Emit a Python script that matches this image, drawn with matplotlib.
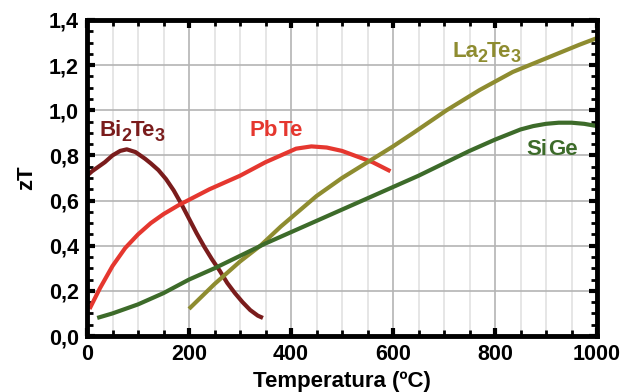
import matplotlib
matplotlib.use('Agg')
import matplotlib.pyplot as plt
import matplotlib.transforms as mtransforms
from matplotlib.ticker import MultipleLocator, FuncFormatter

# data
bi_t = [0, 10, 35, 50, 65, 78, 95, 114, 125, 140, 155, 170, 185, 200, 215, 230, 245, 260, 275, 290, 305, 320,
        335, 345]
bi_zt = [0.71, 0.73, 0.77, 0.80, 0.82, 0.827, 0.815, 0.785, 0.765, 0.735, 0.695, 0.645, 0.585, 0.52, 0.455, 0.395,
         0.34, 0.29, 0.235, 0.19, 0.15, 0.115, 0.09, 0.08]

pb_t = [5, 25, 50, 75, 100, 125, 150, 180, 210, 240, 300, 350, 380, 410, 440, 470, 500, 530, 560, 595]
pb_zt = [0.12, 0.21, 0.31, 0.39, 0.45, 0.50, 0.54, 0.58, 0.615, 0.65, 0.71, 0.77, 0.80, 0.83, 0.84, 0.835, 0.82,
         0.795, 0.77, 0.73]

la_t = [200, 250, 300, 340, 380, 450, 500, 550, 600, 640, 705, 770, 835, 900, 965, 1000]
la_zt = [0.12, 0.23, 0.33, 0.40, 0.485, 0.62, 0.70, 0.77, 0.84, 0.90, 1.00, 1.09, 1.17, 1.23, 1.29, 1.32]

si_t = [20, 50, 100, 150, 200, 250, 300, 350, 400, 450, 500, 550, 600, 650, 700, 750, 800, 850, 875, 900, 925,
        950, 975, 1000]
si_zt = [0.08, 0.10, 0.14, 0.19, 0.25, 0.30, 0.355, 0.41, 0.46, 0.51, 0.56, 0.61, 0.66, 0.71, 0.765, 0.82,
         0.87, 0.915, 0.93, 0.94, 0.945, 0.945, 0.94, 0.93]

c_bi = '#7a1c1c'
c_pb = '#e5372f'
c_la = '#8e8c30'
c_si = '#3d6b2a'

plt.rcParams['font.family'] = ['Liberation Sans', 'DejaVu Sans']
plt.rcParams['font.weight'] = 'bold'

fig = plt.figure(figsize=(6.33, 3.92), dpi=100)
ax = fig.add_axes([87 / 633, 1 - 336 / 392, 510 / 633, 316 / 392])

for t, z, c in [(bi_t, bi_zt, c_bi), (pb_t, pb_zt, c_pb), (la_t, la_zt, c_la), (si_t, si_zt, c_si)]:
    ax.plot(t, z, color=c, lw=3, solid_capstyle='butt', solid_joinstyle='round')

renderer = fig.canvas.get_renderer()


def formula(x, y, parts, color, gap=-0.5):
    # parts: (text, is_subscript); pieces laid out left to right on a shared baseline
    dx = 0.0
    for txt, sub in parts:
        size = 13 if sub else 16
        tr = mtransforms.offset_copy(ax.transData, fig=fig, x=dx, y=-5 if sub else 0, units='dots')
        t = ax.text(x, y, txt, transform=tr, color=color, fontsize=size, fontweight='bold', va='baseline')
        dx += t.get_window_extent(renderer).width + gap


formula(25, 0.885, [('Bi', False), ('2', True), ('Te', False), ('3', True)], c_bi)
formula(318, 0.885, [('Pb', False), ('Te', False)], c_pb, gap=1.5)
formula(716, 1.235, [('La', False), ('2', True), ('Te', False), ('3', True)], c_la)
formula(862, 0.80, [('Si', False), ('Ge', False)], c_si, gap=0.5)

ax.set_xlim(0, 1000)
ax.set_ylim(0, 1.4)
ax.xaxis.set_major_locator(MultipleLocator(200))
ax.xaxis.set_minor_locator(MultipleLocator(50))
ax.yaxis.set_major_locator(MultipleLocator(0.2))
ax.yaxis.set_minor_locator(MultipleLocator(0.05))
ax.yaxis.set_major_formatter(FuncFormatter(lambda v, p: f'{v:.1f}'.replace('.', ',')))

ax.grid(which='major', color='#b4b4b4', lw=1.2)
ax.grid(which='minor', axis='x', color='#e2e2e2', lw=1.2)
ax.set_axisbelow(True)

for s in ax.spines.values():
    s.set_linewidth(3.5)
ax.tick_params(which='both', direction='in', top=True, right=True, labelsize=15.5, pad=6)
ax.tick_params(which='major', length=6, width=3)
ax.tick_params(which='minor', length=4, width=2)

ax.set_xlabel('Temperatura (ºC)', fontsize=16, fontweight='bold', labelpad=4)
ax.set_ylabel('zT', fontsize=16, fontweight='bold', labelpad=8)

fig.savefig('out.png', dpi=100)
